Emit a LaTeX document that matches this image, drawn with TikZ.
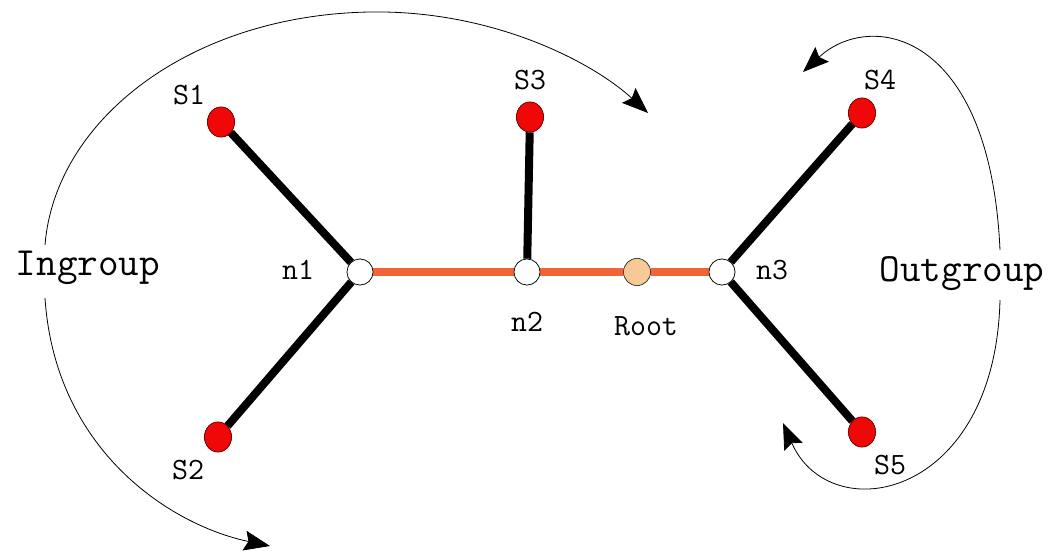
\documentclass[tikz,border=0pt]{standalone}
\usetikzlibrary{arrows.meta,shapes.geometric}
\definecolor{leafred}{RGB}{240,8,8}
\definecolor{rootpeach}{RGB}{248,200,150}
\definecolor{branchorange}{RGB}{240,100,55}
\tikzset{
  leaf/.style={ellipse, draw=black!60!red, line width=0.6pt, fill=leafred, minimum width=27pt, minimum height=30pt, inner sep=0pt},
  inner/.style={circle, draw=black, line width=0.6pt, fill=white, minimum size=26pt, inner sep=0pt},
  rootnode/.style={circle, draw=black!80, line width=0.6pt, fill=rootpeach, minimum size=27pt, inner sep=0pt},
  lbl/.style={font=\ttfamily\fontsize{31}{33}\selectfont, inner sep=0pt},
  biglbl/.style={font=\ttfamily\fontsize{40}{44}\selectfont, inner sep=0pt},
  blackedge/.style={line width=8pt, black},
  orangeedge/.style={line width=8pt, branchorange},
  grouparrow/.style={line width=0.8pt, -{Stealth[length=26pt,width=20pt,inset=4pt]}}
}
\begin{document}
\begin{tikzpicture}[x=1pt,y=-1pt]
\useasboundingbox (0,0) rectangle (1053,551);
% nodes
\node[inner] (n1) at (360,272) {};
\node[inner] (n2) at (527,272) {};
\node[rootnode] (root) at (637,272) {};
\node[inner] (n3) at (722,272) {};
\node[leaf] (s1) at (221,122) {};
\node[leaf] (s2) at (218,437) {};
\node[leaf] (s3) at (530,117) {};
\node[leaf] (s4) at (862,113) {};
\node[leaf] (s5) at (862,432) {};
% edges
\draw[orangeedge] (n1) -- (n2);
\draw[orangeedge] (n2) -- (root);
\draw[orangeedge] (root) -- (n3);
\draw[blackedge] (s1) -- (n1);
\draw[blackedge] (s2) -- (n1);
\draw[blackedge] (s3) -- (n2);
\draw[blackedge] (s4) -- (n3);
\draw[blackedge] (s5) -- (n3);
% redraw nodes on top
\node[inner] at (n1) {};
\node[inner] at (n2) {};
\node[rootnode] at (root) {};
\node[inner] at (n3) {};
\node[leaf] at (s1) {};
\node[leaf] at (s2) {};
\node[leaf] at (s3) {};
\node[leaf] at (s4) {};
\node[leaf] at (s5) {};
% labels
\node[lbl] (ls1) at (189,95) {S1};
\node[lbl] (ls2) at (188,470) {S2};
\node[lbl] (ls3) at (530,80) {S3};
\node[lbl] (ls4) at (880,80) {S4};
\node[lbl] (ls5) at (890,465) {S5};
\node[lbl] (ln1) at (298,270) {n1};
\node[lbl] (ln2) at (527,322) {n2};
\node[lbl] (lroot) at (646,326) {Root};
\node[lbl] (ln3) at (772,270) {n3};
\node[biglbl] (ingroup) at (88,268) {Ingroup};
\node[biglbl] (outgroup) at (962,274) {Outgroup};
% group arrows
\coordinate (inA) at (45,245);
\coordinate (inTop) at (370,12);
\coordinate (inEndA) at (648,113);
\coordinate (inB) at (45,298);
\coordinate (inEndB) at (270,546);
\coordinate (outA) at (1000,250);
\coordinate (outEndA) at (803,72);
\coordinate (outB) at (1000,300);
\coordinate (outEndB) at (783,423);
\draw[grouparrow] (inA) .. controls (55,120) and (190,15) .. (inTop) .. controls (490,10) and (590,60) .. (inEndA);
\draw[grouparrow] (inB) .. controls (55,450) and (170,525) .. (inEndB);
\draw[grouparrow] (outA) .. controls (990,30) and (870,10) .. (outEndA);
\draw[grouparrow] (outB) .. controls (995,500) and (830,530) .. (outEndB);
\end{tikzpicture}
\end{document}
